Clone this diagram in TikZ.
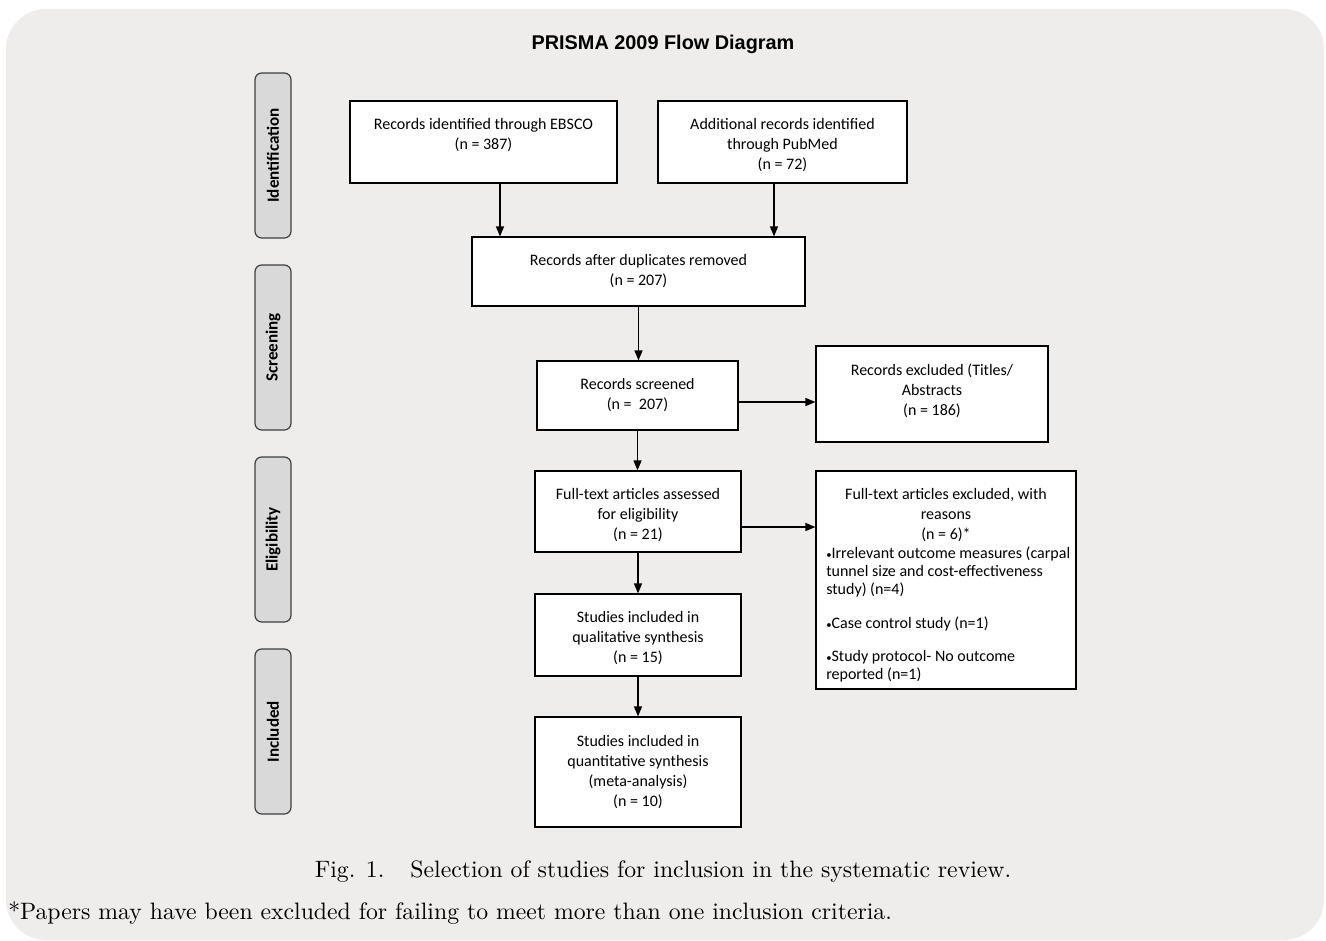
\documentclass[tikz,border=0pt]{standalone}
\usepackage{fontspec}
\newfontfamily\cfont{Carlito}
\newfontfamily\afont{Liberation Sans}
\usetikzlibrary{arrows.meta,calc}
\definecolor{bgcol}{HTML}{EEEDEB}
\definecolor{phasefill}{HTML}{D9D9D9}
\definecolor{phaseline}{HTML}{3F3F3F}
\tikzset{
  box/.style={draw=black, line width=0.9pt, fill=white, inner sep=0pt},
  txt/.style={font=\cfont\fontsize{12}{15}\selectfont, align=center, inner sep=0pt, anchor=north},
  listtxt/.style={font=\cfont\fontsize{12}{13.5}\selectfont, align=left, inner sep=0pt, anchor=north west},
  phase/.style={draw=phaseline, fill=phasefill, rounded corners=5pt, line width=0.9pt,
    rotate=90, minimum width=123.75pt, minimum height=27pt, inner sep=0pt,
    font=\cfont\bfseries\fontsize{12.8}{15}\selectfont},
  arr/.style={-{Triangle[length=7.5pt,width=6pt]}, line width=1pt},
}
\newcommand{\bul}{{\fontsize{8}{8}\selectfont •}}
\begin{document}
\begin{tikzpicture}[x=0.75pt,y=-0.75pt]
\useasboundingbox (0,0) rectangle (1326,940);
\fill[bgcol, rounded corners=30pt] (6,9) rectangle (1324,940);

\node[font=\afont\bfseries\fontsize{14.9}{18}\selectfont] (title) at (663,44) {PRISMA 2009 Flow Diagram};

% phase labels
\node[phase] (p1) at (273,155.5) {Identification};
\node[phase] (p2) at (273,347.5) {Screening};
\node[phase] (p3) at (273,539.5) {Eligibility};
\node[phase] (p4) at (273,731.5) {Included};

% boxes
\node[box, minimum width=200.25pt, minimum height=61.5pt] (ebsco) at (483.5,142) {};
\node[box, minimum width=186.75pt, minimum height=61.5pt] (pubmed) at (782.5,142) {};
\node[box, minimum width=249.75pt, minimum height=51.75pt] (dup) at (638.5,271.5) {};
\node[box, minimum width=150.75pt, minimum height=51.75pt] (screen) at (637.5,395.5) {};
\node[box, minimum width=174pt, minimum height=72pt] (excl1) at (932,394) {};
\node[box, minimum width=154.5pt, minimum height=60.75pt] (full) at (638,511.5) {};
\node[box, minimum width=195pt, minimum height=163.5pt] (excl2) at (946,580) {};
\node[box, minimum width=154.5pt, minimum height=61.5pt] (qual) at (638,635) {};
\node[box, minimum width=154.5pt, minimum height=82.5pt] (quant) at (638,772) {};

% texts
\node[txt] (ebscot) at (483.5,118.5) {Records identified through EBSCO\\(n = 387)};
\node[txt] (pubmedt) at (782.5,118) {Additional records identified\\through PubMed\\(n = 72)};
\node[txt] (dupt) at (638.5,254.5) {Records after duplicates removed\\(n = 207)};
\node[txt] (screent) at (637.5,378) {Records screened\\(n =\ \ 207)};
\node[txt] (excl1t) at (932,364) {Records excluded (Titles/\\Abstracts\\(n = 186)};
\node[txt] (fullt) at (638,488) {Full-text articles assessed\\for eligibility\\(n = 21)};
\node[txt] (excl2t) at (946,488) {Full-text articles excluded, with\\reasons\\(n = 6)*};
\node[listtxt] (excl2l) at (826,547) {\bul Irrelevant outcome measures (carpal\\tunnel size and cost-effectiveness\\study) (n=4)\\[12pt]\bul Case control study (n=1)\\[11pt]\bul Study protocol- No outcome\\reported (n=1)};
\node[txt] (qualt) at (638,611) {Studies included in\\qualitative synthesis\\(n = 15)};
\node[txt] (quantt) at (638,735) {Studies included in\\quantitative synthesis\\(meta-analysis)\\(n = 10)};

% connectors
\coordinate (a1) at (500,0);
\coordinate (a2) at (774,0);
\coordinate (r1) at (0,402);
\coordinate (r2) at (0,527);
\draw[arr] (ebsco.south -| a1) -- (dup.north -| a1);
\draw[arr] (pubmed.south -| a2) -- (dup.north -| a2);
\draw[arr] (dup.south) -- (dup.south |- screen.north);
\draw[arr] (screen.east |- r1) -- (excl1.west |- r1);
\draw[arr] (screen.south) -- (screen.south |- full.north);
\draw[arr] (full.east |- r2) -- (excl2.west |- r2);
\draw[arr] (full.south) -- (qual.north);
\draw[arr] (qual.south) -- (quant.north);

% caption and footnote
\node[font=\fontsize{10}{12}\selectfont, inner sep=0pt] (cap) at (663,872) {\scalebox{1.78}{Fig. 1.\hspace{1.1em}Selection of studies for inclusion in the systematic review.}};
\node[font=\fontsize{10}{12}\selectfont, inner sep=0pt, anchor=west] (foot) at (8,913) {\scalebox{1.78}{*Papers may have been excluded for failing to meet more than one inclusion criteria.}};
\end{tikzpicture}
\end{document}
